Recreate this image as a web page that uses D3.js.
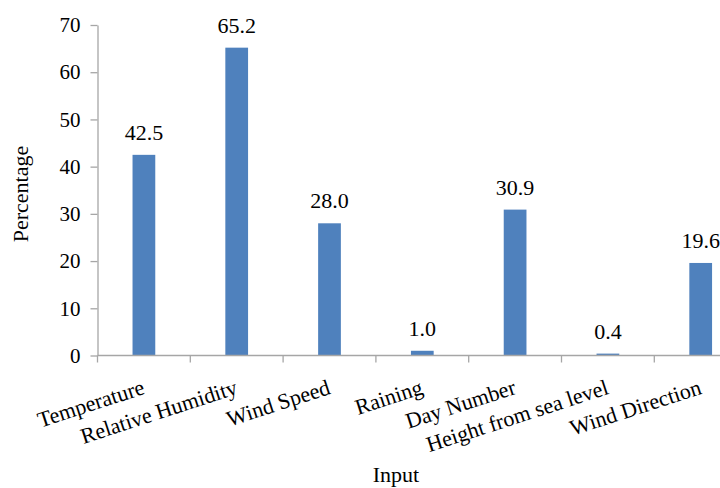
<!DOCTYPE html>
<html>
<head>
<meta charset="utf-8">
<script src="https://cdn.jsdelivr.net/npm/d3@7"></script>
<style>
  html, body { margin: 0; padding: 0; background: #fff; }
  svg { display: block; }
  svg text { font-family: "Liberation Serif", "Times New Roman", serif; fill: #000; }
</style>
</head>
<body>
<svg id="chart" width="720" height="488"></svg>
<script>
// Relative importance of each input variable (percent)
const categories = ["Temperature", "Relative Humidity", "Wind Speed", "Raining",
                    "Day Number", "Height from sea level", "Wind Direction"];
const values = [42.5, 65.2, 28.0, 1.0, 30.9, 0.4, 19.6];
const yTicks = [0, 10, 20, 30, 40, 50, 60, 70];

const svg = d3.select("#chart");
const axisColor = "#a6a6a6";
const barColor = "#4f81bd";
const serif = "Liberation Serif, Times New Roman, serif";

// plot area (the band axis continues past the right edge of the page)
const plotLeft = 97.5, plotBottom = 355.5, plotTop = 25;
const bandStep = 92.8;

const x = d3.scaleBand()
  .domain(categories)
  .range([plotLeft, plotLeft + bandStep * categories.length])
  .paddingInner(0.755)
  .paddingOuter(0.3775);

const y = d3.scaleLinear().domain([0, 70]).range([plotBottom, plotTop]);

// bars
svg.append("g").selectAll("rect")
  .data(values)
  .join("rect")
  .attr("x", (d, i) => x(categories[i]))
  .attr("y", d => y(d))
  .attr("width", x.bandwidth())
  .attr("height", d => y(0) - y(d))
  .attr("fill", barColor);

// value labels
svg.append("g").selectAll("text")
  .data(values)
  .join("text")
  .attr("x", (d, i) => x(categories[i]) + x.bandwidth() / 2)
  .attr("y", d => y(d) - 15)
  .attr("text-anchor", "middle")
  .attr("font-size", 22)
  .text(d => d.toFixed(1));

// y axis
const yAxis = svg.append("g")
  .attr("transform", `translate(${plotLeft},0)`)
  .call(d3.axisLeft(y).tickValues(yTicks).tickSize(7).tickPadding(10).tickSizeOuter(0));
yAxis.attr("font-family", serif);
yAxis.select(".domain").attr("stroke", axisColor).attr("stroke-width", 1.3);
yAxis.selectAll(".tick line").attr("stroke", axisColor).attr("stroke-width", 1.3);
yAxis.selectAll(".tick text")
  .attr("font-size", 21)
  .attr("fill", "#000");

// x axis: tick marks sit on the category boundaries
const boundaries = d3.range(categories.length + 1).map(i => plotLeft + i * bandStep);
svg.append("line")
  .attr("x1", plotLeft).attr("x2", plotLeft + bandStep * categories.length)
  .attr("y1", plotBottom).attr("y2", plotBottom)
  .attr("stroke", axisColor).attr("stroke-width", 1.3);
svg.append("g").selectAll("line")
  .data(boundaries)
  .join("line")
  .attr("x1", d => d).attr("x2", d => d)
  .attr("y1", plotBottom).attr("y2", plotBottom + 7)
  .attr("stroke", axisColor).attr("stroke-width", 1.3);

// category labels, rotated
svg.append("g").selectAll("text")
  .data(categories)
  .join("text")
  .attr("transform", d => `translate(${x(d) + x.bandwidth() / 2 + 2},${plotBottom + 38}) rotate(-18)`)
  .attr("text-anchor", "end")
  .attr("font-size", 22)
  .text(d => d);

// axis titles
svg.append("text")
  .attr("transform", "translate(28,194) rotate(-90)")
  .attr("text-anchor", "middle")
  .attr("font-size", 22)
  .text("Percentage");

svg.append("text")
  .attr("x", 396)
  .attr("y", 482)
  .attr("text-anchor", "middle")
  .attr("font-size", 22)
  .text("Input");
</script>
</body>
</html>
